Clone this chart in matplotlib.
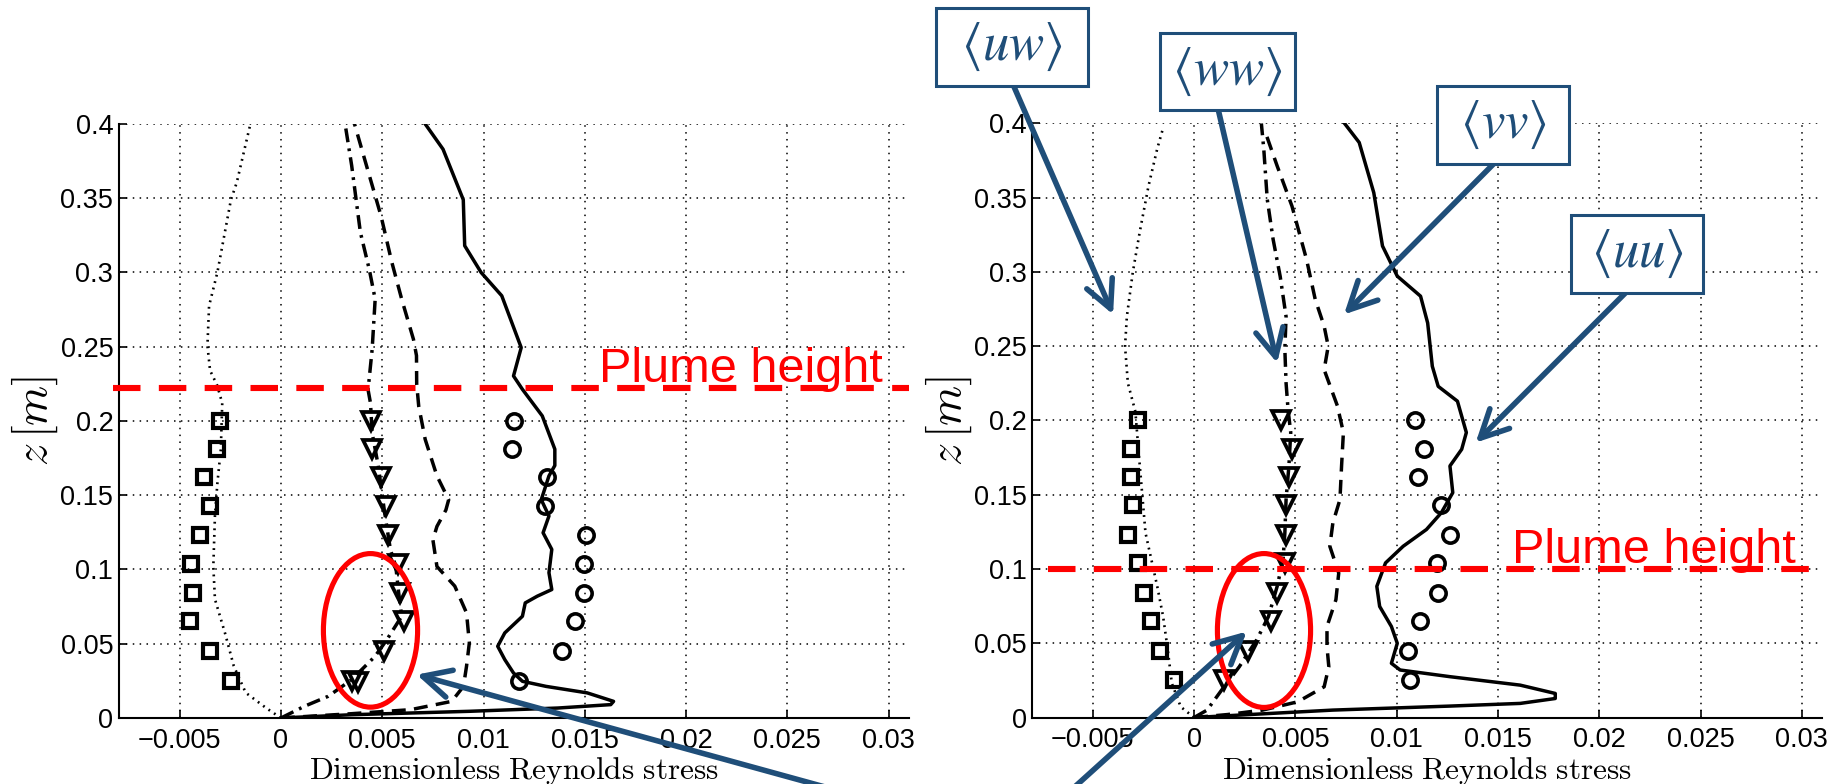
import matplotlib
matplotlib.use('Agg')
import matplotlib.pyplot as plt
from matplotlib.patches import Ellipse, Rectangle

plt.rcParams['font.family'] = ['Liberation Sans', 'DejaVu Sans']
plt.rcParams['axes.unicode_minus'] = True

# heights of the measurement points (both cases)
z_exp = [0.025, 0.045, 0.065, 0.084, 0.104, 0.123, 0.143, 0.162, 0.181, 0.200]

# ---------------- case 1 (plume height 0.222 m) ----------------
# LES profiles: (stress, z)
c1_uw = [(0, 0), (-0.00073, 0.0067), (-0.00174, 0.017), (-0.00233, 0.035), (-0.00276, 0.057),
         (-0.00326, 0.080), (-0.00334, 0.102), (-0.00326, 0.136), (-0.00314, 0.158),
         (-0.00297, 0.181), (-0.00290, 0.212), (-0.00315, 0.224), (-0.00350, 0.234),
         (-0.00363, 0.2506), (-0.00355, 0.2775), (-0.00314, 0.300), (-0.00247, 0.349),
         (-0.00218, 0.3607), (-0.00151, 0.400)]
c1_ww = [(0, 0), (0.00116, 0.0079), (0.00233, 0.0146), (0.00349, 0.0258), (0.00465, 0.0416),
         (0.00523, 0.0528), (0.00596, 0.0685), (0.00581, 0.0843), (0.00567, 0.102),
         (0.0054, 0.1135), (0.0051, 0.140), (0.0048, 0.170), (0.0045, 0.192), (0.00442, 0.212),
         (0.0043, 0.221), (0.0045, 0.248), (0.00465, 0.282), (0.00436, 0.302), (0.00392, 0.327),
         (0.00349, 0.372), (0.0032, 0.397)]
c1_vv = [(0, 0), (0.0035, 0.0029), (0.0064, 0.0056), (0.00843, 0.0112), (0.00901, 0.0213),
         (0.00916, 0.0348), (0.0093, 0.0506), (0.00916, 0.0708), (0.00858, 0.0888),
         (0.0077, 0.102), (0.0075, 0.120), (0.0077, 0.129), (0.00814, 0.140), (0.00828, 0.147),
         (0.0077, 0.163), (0.00712, 0.1876), (0.0068, 0.210), (0.0067, 0.225), (0.00669, 0.244),
         (0.00654, 0.255), (0.00596, 0.282), (0.00547, 0.307), (0.00494, 0.338),
         (0.00422, 0.372), (0.00363, 0.400)]
c1_uu = [(0, 0), (0.00349, 0.0022), (0.0093, 0.0045), (0.01366, 0.0067), (0.01628, 0.009),
         (0.01642, 0.0112), (0.01512, 0.0169), (0.01308, 0.0213), (0.01192, 0.0247),
         (0.01148, 0.0303), (0.01105, 0.0393), (0.0107, 0.0483), (0.01105, 0.0573),
         (0.01192, 0.0685), (0.01206, 0.0775), (0.01265, 0.082), (0.01337, 0.0865),
         (0.01323, 0.0978), (0.01337, 0.1135), (0.01294, 0.1247), (0.01323, 0.136),
         (0.01285, 0.147), (0.01323, 0.163), (0.01352, 0.170), (0.01352, 0.181),
         (0.0129, 0.2034), (0.01192, 0.2213), (0.01148, 0.2303), (0.01186, 0.2494),
         (0.0109, 0.2843), (0.00988, 0.300), (0.00907, 0.318), (0.0090, 0.349),
         (0.008, 0.383), (0.00712, 0.400)]
# measurements
c1_uw_exp = [-0.00247, -0.00349, -0.00451, -0.00436, -0.00442, -0.00401, -0.00349, -0.00378, -0.00314, -0.00299]
c1_ww_exp = [0.0035, 0.0051, 0.00605, 0.00587, 0.00576, 0.00529, 0.00517, 0.00494, 0.0045, 0.00442]
c1_uu_exp = [0.01177, 0.01387, 0.01453, 0.01497, 0.01497, 0.01506, 0.01302, 0.01314, 0.0114, 0.01148]
c1_ww_extra = ([0.0038], [0.024])
c1_plume = 0.222

# ---------------- case 2 (plume height 0.1 m) ----------------
c2_uw = [(0, 0), (-0.00066, 0.0072), (-0.0011, 0.023), (-0.0013, 0.0455), (-0.00153, 0.068),
         (-0.00182, 0.0883), (-0.00211, 0.1063), (-0.0024, 0.1243), (-0.00254, 0.1468),
         (-0.00275, 0.1806), (-0.0029, 0.206), (-0.00327, 0.2252), (-0.00341, 0.250),
         (-0.00332, 0.270), (-0.00303, 0.2995), (-0.00269, 0.3265), (-0.00225, 0.358),
         (-0.00182, 0.383), (-0.00153, 0.397)]
c2_ww = [(0, 0), (0.00064, 0.005), (0.00136, 0.0185), (0.00223, 0.0342), (0.00309, 0.0523),
         (0.00367, 0.068), (0.0041, 0.0883), (0.00439, 0.1063), (0.00448, 0.1243),
         (0.00454, 0.1468), (0.00468, 0.1694), (0.00477, 0.192), (0.00464, 0.207),
         (0.00454, 0.2252), (0.00448, 0.2477), (0.00454, 0.270), (0.00425, 0.297),
         (0.0039, 0.322), (0.00361, 0.349), (0.00344, 0.3827), (0.00332, 0.400)]
c2_vv = [(0, 0), (0.00165, 0.002), (0.00338, 0.005), (0.00512, 0.0106), (0.00642, 0.0207),
         (0.00665, 0.0342), (0.00656, 0.0477), (0.00656, 0.0613), (0.007, 0.0793),
         (0.00714, 0.0973), (0.0067, 0.1153), (0.00685, 0.131), (0.0072, 0.1468),
         (0.00728, 0.1694), (0.00737, 0.1919), (0.00707, 0.210), (0.00642, 0.2342),
         (0.00662, 0.250), (0.00642, 0.2635), (0.00598, 0.2815), (0.00555, 0.3085),
         (0.00483, 0.3444), (0.0041, 0.3714), (0.00352, 0.394)]
c2_uu = [(0, 0), (0.00685, 0.005), (0.01263, 0.0077), (0.0161, 0.0095), (0.01783, 0.0128),
         (0.01783, 0.0162), (0.0161, 0.0218), (0.01263, 0.0275), (0.01017, 0.032),
         (0.00974, 0.0365), (0.01003, 0.050), (0.00974, 0.0613), (0.00916, 0.0748),
         (0.00902, 0.0883), (0.00945, 0.1041), (0.01032, 0.1153), (0.01147, 0.1266),
         (0.0122, 0.1378), (0.01277, 0.1514), (0.01263, 0.1694), (0.01321, 0.1806),
         (0.01344, 0.1919), (0.0130, 0.213), (0.01205, 0.223), (0.01176, 0.2365),
         (0.01153, 0.2657), (0.01118, 0.2837), (0.01003, 0.2972), (0.0093, 0.3175),
         (0.00887, 0.3534), (0.00815, 0.3872), (0.00743, 0.400)]
c2_uw_exp = [-0.00101, -0.00168, -0.00211, -0.00249, -0.00275, -0.00327, -0.00303, -0.00312, -0.00312, -0.00277]
c2_ww_exp = [0.0015, 0.00266, 0.00382, 0.0041, 0.00448, 0.00454, 0.00454, 0.00468, 0.00483, 0.00431]
c2_uu_exp = [0.01066, 0.01055, 0.01113, 0.01205, 0.012, 0.01263, 0.0122, 0.01104, 0.01133, 0.0109]
c2_plume = 0.1

xticks = [-0.005, 0, 0.005, 0.01, 0.015, 0.02, 0.025, 0.03]
xticklabels = ['\u22120.005', '0', '0.005', '0.01', '0.015', '0.02', '0.025', '0.03']
yticks = [0, 0.05, 0.1, 0.15, 0.2, 0.25, 0.3, 0.35, 0.4]
yticklabels = ['0', '0.05', '0.1', '0.15', '0.2', '0.25', '0.3', '0.35', '0.4']

NAVY = '#1F4E79'
RED = '#FF0000'


def prof(ax, pts, **kw):
    xs = [p[0] for p in pts]
    zs = [p[1] for p in pts]
    ax.plot(xs, zs, color='k', **kw)


def draw_case(ax, uw, ww, vv, uu, uw_e, ww_e, uu_e, plume, plume_x0):
    prof(ax, uw, lw=1.9, linestyle=(0, (0.7, 1.8)))
    prof(ax, ww, lw=2.5, linestyle=(0, (4.0, 1.8, 0.8, 1.8)))
    prof(ax, vv, lw=2.5, linestyle=(0, (4.0, 2.4)))
    prof(ax, uu, lw=2.5)
    ax.plot(uw_e, z_exp, 's', mfc='none', mec='k', ms=9.5, mew=3.0, zorder=4)
    ax.plot(ww_e, z_exp, 'v', mfc='none', mec='k', ms=13, mew=2.7, zorder=4)
    ax.plot(uu_e, z_exp, 'o', mfc='none', mec='k', ms=11, mew=2.6, zorder=4)

    ax.plot([plume_x0, 0.031], [plume, plume], color=RED, lw=4.4,
            linestyle=(0, (4.5, 3.0)), clip_on=False, zorder=5)
    ax.text(0.0157, plume + 0.004, 'Plume height', color=RED, fontsize=35,
            ha='left', va='baseline', zorder=6)

    ax.set_xlim(-0.008, 0.031)
    ax.set_ylim(0, 0.4)
    ax.set_xticks(xticks)
    ax.set_xticklabels(xticklabels)
    ax.set_yticks(yticks)
    ax.set_yticklabels(yticklabels)
    ax.tick_params(direction='in', length=6, width=1.2, labelsize=19.5)
    ax.tick_params(axis='x', pad=7)
    ax.tick_params(axis='y', pad=4)
    ax.grid(True, linestyle=(0, (1, 3.5)), color='k', lw=1.1)
    ax.spines['top'].set_visible(False)
    ax.spines['right'].set_visible(False)
    ax.spines['left'].set_linewidth(1.5)
    ax.spines['bottom'].set_linewidth(1.5)
    ax.set_xlabel(r'$\mathrm{Dimensionless\ Reynolds\ stress}$', fontsize=22.5,
                  math_fontfamily='cm', labelpad=1)
    ax.set_ylabel(r'$z\,[m]$', fontsize=33, math_fontfamily='cm')
    ax.yaxis.set_label_coords(-0.074, 0.5)


fig = plt.figure(figsize=(18.41, 7.84), dpi=100)
ax1 = fig.add_axes([0.0646, 0.0842, 0.4291, 0.7577])
ax2 = fig.add_axes([0.5606, 0.0848, 0.4291, 0.7577])

draw_case(ax1, c1_uw, c1_ww, c1_vv, c1_uu, c1_uw_exp, c1_ww_exp, c1_uu_exp, c1_plume, -0.0083)
ax1.plot(*c1_ww_extra, 'v', mfc='none', mec='k', ms=13, mew=2.7, zorder=4)
draw_case(ax2, c2_uw, c2_ww, c2_vv, c2_uu, c2_uw_exp, c2_ww_exp, c2_uu_exp, c2_plume, -0.0072)

# red ellipses around the near-ground <ww> points
ax1.add_patch(Ellipse((0.00442, 0.059), 0.00465, 0.1034, fill=False, ec=RED, lw=3.7, zorder=6))
ax2.add_patch(Ellipse((0.00345, 0.0586), 0.0046, 0.1036, fill=False, ec=RED, lw=3.7, zorder=6))

arrow_kw = dict(arrowstyle='->,head_length=1.0,head_width=0.5', color=NAVY, lw=4,
                mutation_scale=20, shrinkA=0, shrinkB=0)

# component labels with arrows (right panel)
boxes = [
    (r'$\langle uw\rangle$', (-0.01276, -0.00524, 0.4250, 0.4776), (-0.0089, 0.425), (-0.0040, 0.2714)),
    (r'$\langle ww\rangle$', (-0.00166, 0.00498, 0.4088, 0.4607), (0.0012, 0.4088), (0.0041, 0.2387)),
    (r'$\langle vv\rangle$', (0.01201, 0.01850, 0.3730, 0.4250), (0.0148, 0.3730), (0.0074, 0.2714)),
    (r'$\langle uu\rangle$', (0.01860, 0.02514, 0.2860, 0.3386), (0.0213, 0.2860), (0.0139, 0.1851)),
]
for label, (x0, x1, y0, y1), tail, head in boxes:
    ax2.annotate('', xy=head, xytext=tail, arrowprops=arrow_kw, annotation_clip=False, zorder=7)
    ax2.add_patch(Rectangle((x0, y0), x1 - x0, y1 - y0, fill=True, fc='white', ec=NAVY,
                            lw=2.2, clip_on=False, zorder=8))
    ax2.text((x0 + x1) / 2, (y0 + y1) / 2, label, color=NAVY, fontsize=38,
             math_fontfamily='stix', ha='center', va='center', zorder=9, clip_on=False)

# arrows pointing at the ellipses from below
ax1.annotate('', xy=(0.0067, 0.0292), xytext=(0.0270, -0.047), arrowprops=arrow_kw,
             annotation_clip=False, zorder=7)
ax2.annotate('', xy=(0.0026, 0.0579), xytext=(-0.0060, -0.048), arrowprops=arrow_kw,
             annotation_clip=False, zorder=7)

fig.savefig('out.png', dpi=100, facecolor='white')
